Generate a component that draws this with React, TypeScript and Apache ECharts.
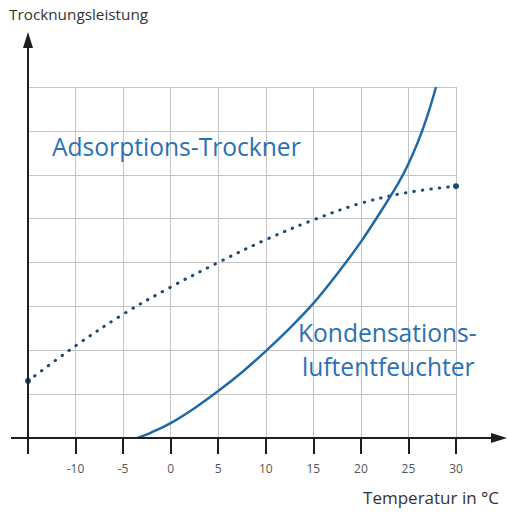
import React, { useEffect, useRef } from "react";
import * as echarts from "echarts";

const X_MIN = -15;
const X_MAX = 30;
const X_STEP = 5;
const Y_MIN = 0;
const Y_MAX = 8;

const kondensationX = [-3.5, -2, 0, 2.5, 5, 7.5, 10, 12.5, 15, 17.5, 20, 22.5, 24, 25, 26, 27, 27.9];
const kondensationY = [0, 0.13, 0.34, 0.68, 1.07, 1.5, 1.98, 2.5, 3.07, 3.74, 4.47, 5.3, 5.83, 6.25, 6.75, 7.35, 8.0];

const adsorptionX = [-15, -10, -5, 0, 5, 10, 15, 20, 25, 30];
const adsorptionY = [1.3, 2.1, 2.82, 3.44, 4.0, 4.52, 4.97, 5.35, 5.6, 5.74];

const yTitle = "Trocknungsleistung";
const xTitle = "Temperatur in °C";
const adsorptionLabel = "Adsorptions-Trockner";
const kondensationLabel = ["Kondensations-", "luftentfeuchter"];

const FONT = "'Open Sans', 'Noto Sans', sans-serif";
const AXIS_COLOR = "#1e1e1e";
const GRID_COLOR = "#c4c4c4";
const SOLID_COLOR = "#1f6aa6";
const DOT_COLOR = "#1d4a73";
const LABEL_COLOR = "#2b71b2";

export default function App() {
  const ref = useRef<HTMLDivElement>(null);

  useEffect(() => {
    if (!ref.current) return;
    const chart = echarts.init(ref.current, null, { renderer: "svg" });
    const kData = kondensationX.map((x, i) => [x, kondensationY[i]]);
    const aData = adsorptionX.map((x, i) => [x, adsorptionY[i]]);
    const lastA = aData.length - 1;

    chart.setOption({
      animation: false,
      backgroundColor: "#ffffff",
      grid: { left: 28, right: 52, top: 87, bottom: 77, containLabel: false },
      xAxis: {
        type: "value",
        min: X_MIN,
        max: X_MAX,
        interval: X_STEP,
        axisLine: { show: false },
        axisTick: { show: true, length: 16, lineStyle: { color: AXIS_COLOR, width: 2 } },
        axisLabel: {
          margin: 24,
          color: "#555555",
          fontSize: 12,
          fontFamily: FONT,
          formatter: (v: number) => (v === X_MIN ? "" : String(v)),
        },
        splitLine: { show: true, lineStyle: { color: GRID_COLOR, width: 1 } },
      },
      yAxis: {
        type: "value",
        min: Y_MIN,
        max: Y_MAX,
        interval: 1,
        axisLine: { show: false },
        axisTick: { show: false },
        axisLabel: { show: false },
        splitLine: { show: true, lineStyle: { color: GRID_COLOR, width: 1 } },
      },
      series: [
        {
          type: "line",
          data: aData,
          smooth: 0.35,
          symbol: "circle",
          symbolSize: (_v: any, p: any) => (p.dataIndex === 0 || p.dataIndex === lastA ? 6 : 0),
          showSymbol: true,
          itemStyle: { color: DOT_COLOR },
          lineStyle: { color: DOT_COLOR, width: 3, type: [0.5, 8], cap: "round" },
          z: 3,
        },
        {
          type: "line",
          data: kData,
          smooth: 0.35,
          showSymbol: false,
          lineStyle: { color: SOLID_COLOR, width: 2.5 },
          z: 4,
        },
      ],
    });

    const o = chart.convertToPixel({ gridIndex: 0 }, [X_MIN, Y_MIN]) as number[];
    const ox = o[0];
    const oy = o[1];

    chart.setOption({
      graphic: [
        { type: "line", shape: { x1: ox, y1: oy + 16, x2: ox, y2: 44 }, style: { stroke: AXIS_COLOR, lineWidth: 2 }, z: 10 },
        { type: "polygon", shape: { points: [[ox, 32], [ox - 5, 48], [ox + 5, 48]] }, style: { fill: AXIS_COLOR }, z: 10 },
        { type: "line", shape: { x1: 11, y1: oy, x2: 495, y2: oy }, style: { stroke: AXIS_COLOR, lineWidth: 2 }, z: 10 },
        { type: "polygon", shape: { points: [[507, oy], [491, oy - 5], [491, oy + 5]] }, style: { fill: AXIS_COLOR }, z: 10 },
        {
          type: "text",
          left: 9,
          top: 6,
          style: { text: yTitle, fontSize: 15.3, fontFamily: FONT, fill: "#333333" },
        },
        {
          type: "text",
          right: 9,
          top: 489,
          style: { text: xTitle, fontSize: 17, fontFamily: FONT, fill: "#333333" },
        },
        {
          type: "text",
          left: 52,
          top: 134,
          style: { text: adsorptionLabel, fontSize: 24.6, fontFamily: FONT, fill: LABEL_COLOR },
        },
        {
          type: "text",
          left: 298,
          top: 320,
          style: { text: kondensationLabel[0], fontSize: 24.6, fontFamily: FONT, fill: LABEL_COLOR },
        },
        {
          type: "text",
          left: 302,
          top: 354,
          style: { text: kondensationLabel[1], fontSize: 24.6, fontFamily: FONT, fill: LABEL_COLOR },
        },
      ],
    });

    return () => chart.dispose();
  }, []);

  return (
    <div
      ref={ref}
      style={{ position: "fixed", left: 0, top: 0, width: 508, height: 515, background: "#fff" }}
    />
  );
}
